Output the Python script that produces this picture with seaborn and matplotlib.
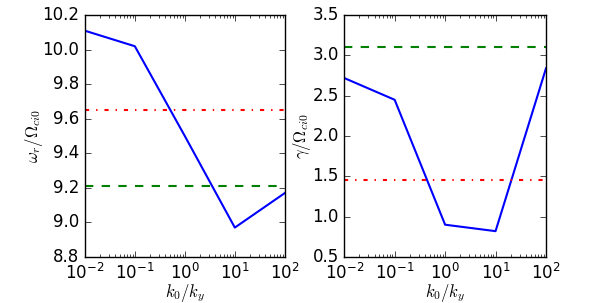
import numpy as np
import pandas as pd
import seaborn as sns
from matplotlib import pyplot as plt

k_ratio = [0.01, 0.1, 1, 10, 100]
omega_r = [10.11, 10.02, 9.5, 8.97, 9.17]
gamma = [2.72, 2.45, 0.90, 0.82, 2.84]
omega_red = 9.65
omega_green = 9.21
gamma_red = 1.46
gamma_green = 3.10

plt.style.use('classic')
plt.rcParams['mathtext.fontset'] = 'cm'
plt.rcParams['font.family'] = ['DejaVu Sans']

df = pd.DataFrame({'k': k_ratio, 'omega': omega_r, 'gamma': gamma})

fig = plt.figure(figsize=(6.06, 3.03), dpi=100, facecolor='white')
ax1 = fig.add_axes([0.140, 0.152, 0.330, 0.798])
ax2 = fig.add_axes([0.568, 0.152, 0.333, 0.798])

panels = [
    (ax1, 'omega', omega_red, omega_green, (8.8, 10.2), r'$\omega_r/\Omega_{ci0}$', -0.20),
    (ax2, 'gamma', gamma_red, gamma_green, (0.5, 3.5), r'$\gamma/\Omega_{ci0}$', -0.155),
]
for ax, col, red, green, ylim, ylabel, ylab_x in panels:
    sns.lineplot(data=df, x='k', y=col, ax=ax, color='b', lw=1.5)
    ax.axhline(red, color='r', ls='-.', lw=1.5)
    ax.axhline(green, color='g', ls='--', lw=1.5)
    ax.set_xscale('log')
    ax.set_xlim(1e-2, 1e2)
    ax.set_ylim(*ylim)
    ax.set_xlabel(r'$k_0/k_y$', fontsize=12)
    ax.set_ylabel(ylabel, fontsize=12)
    ax.xaxis.set_label_coords(0.5, -0.105)
    ax.yaxis.set_label_coords(ylab_x, 0.5)
    ax.tick_params(labelsize=12)

plt.savefig('out.png', dpi=100, facecolor='white')
